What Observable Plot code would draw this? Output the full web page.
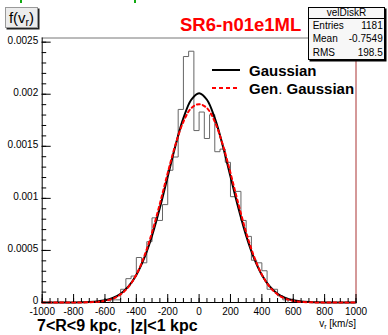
<!DOCTYPE html>
<html><head><meta charset="utf-8">
<script src="https://cdn.jsdelivr.net/npm/d3@7"></script>
<script src="https://cdn.jsdelivr.net/npm/@observablehq/plot@0.6"></script>
<style>
body{margin:0;background:#fff;}
#wrap{position:relative;width:388px;height:335px;overflow:hidden;font-family:"Liberation Sans",Arial,sans-serif;color:#000;}
#wrap svg{display:block;}
.abs{position:absolute;white-space:nowrap;line-height:1;}
sub{font-size:70%;vertical-align:-0.25em;line-height:0;}
</style></head><body><div id="wrap"></div>
<script>
// Histogram (bin lower/upper edges, km/s) and normalised counts
const binEdges = [-566.7,-533.3,-500,-466.7,-433.3,-400,-366.7,-333.3,-300,-266.7,-233.3,-200,-166.7,-133.3,-100,-66.7,-33.3,0,33.3,66.7,100,133.3,166.7,200,233.3,266.7,300,333.3,366.7,400,433.3,466.7,500,533.3,566.7];
const binDensity = [0.0000254,0.0000254,0.000127,0.000229,0.000254,0.000432,0.000381,0.000584,0.000813,0.000788,0.00094,0.00127,0.001397,0.001854,0.002362,0.002413,0.001651,0.001829,0.001575,0.001803,0.001448,0.001473,0.001346,0.001016,0.001067,0.000788,0.000635,0.000406,0.000381,0.000305,0.000127,0.000127,0.0000635,0.0000254];
// Fitted curves sampled along v_r
const curveX = [-1000,-950,-900,-850,-800,-750,-700,-650,-600,-550,-500,-450,-400,-350,-300,-250,-200,-150,-100,-50,0,50,100,150,200,250,300,350,400,450,500,550,600,650,700,750,800,850,900,950,1000];
const gaussY = [0,0,0,0.0000002,0.0000006,0.0000016,0.000004,0.0000094,0.0000209,0.0000433,0.0000843,0.000154,0.000264,0.000425,0.000641,0.000909,0.00121,0.001511,0.00177,0.001947,0.00201,0.001947,0.00177,0.001511,0.00121,0.000909,0.000641,0.000425,0.000264,0.000154,0.0000843,0.0000433,0.0000209,0.0000094,0.000004,0.0000016,0.0000006,0.0000002,0,0,0];
const genGaussY = [0,0,0,0,0.0000002,0.0000008,0.0000023,0.0000063,0.0000159,0.0000367,0.0000776,0.00015,0.000268,0.000442,0.000673,0.000949,0.001244,0.001519,0.001736,0.001867,0.001905,0.001867,0.001736,0.001519,0.001244,0.000949,0.000673,0.000442,0.000268,0.00015,0.0000776,0.0000367,0.0000159,0.0000063,0.0000023,0.0000008,0.0000002,0,0,0,0];
// Axes
const xTicks = [-1000,-800,-600,-400,-200,0,200,400,600,800,1000];
const yTicks = [0,0.0005,0.001,0.0015,0.002,0.0025];
const xMinor = d3.range(-1000, 1001, 50);
const yMinor = d3.range(0, 26).map(i => i / 10000);
const xDomain = [-1000, 1000];
const yDomain = [0, 0.00254];
const statRows = [["Entries","1181"],["Mean","-0.7549"],["RMS","198.5"]];

const histPts = [{x: binEdges[0], y: 0}];
binDensity.forEach((v, i) => histPts.push({x: binEdges[i], y: v}));
histPts.push({x: binEdges[binEdges.length - 1], y: 0});
const gaussPts = curveX.map((x, i) => ({x, y: gaussY[i]}));
const genPts = curveX.map((x, i) => ({x, y: genGaussY[i]}));

const chart = Plot.plot({
  width: 388, height: 335,
  marginLeft: 41.7, marginRight: 32.5, marginTop: 37.5, marginBottom: 33,
  x: {domain: xDomain},
  y: {domain: yDomain},
  style: {fontFamily: "'Liberation Sans', Arial, sans-serif", fontSize: "10px", color: "#000", background: "transparent", overflow: "visible"},
  marks: [
    Plot.ruleY([yDomain[1]], {stroke: "#777", strokeWidth: 1}),
    Plot.ruleX([xDomain[1]], {stroke: "#a33", strokeWidth: 1}),
    Plot.ruleY([0], {stroke: "#000", strokeWidth: 1}),
    Plot.ruleX([xDomain[0]], {stroke: "#000", strokeWidth: 1}),
    Plot.line(histPts, {x: "x", y: "y", curve: "step-after", stroke: "#666", strokeWidth: 1}),
    Plot.line(gaussPts, {x: "x", y: "y", curve: "catmull-rom", stroke: "#000", strokeWidth: 2}),
    Plot.line(genPts, {x: "x", y: "y", curve: "catmull-rom", stroke: "#ff0000", strokeWidth: 2, strokeDasharray: "3,3"}),
    Plot.axisX(xMinor, {anchor: "bottom", tickSize: -4, fill: "none", label: null}),
    Plot.axisX(xTicks, {anchor: "bottom", tickSize: -8, fill: "none", label: null}),
    Plot.axisX(xTicks, {anchor: "bottom", tickSize: 0, tickPadding: 5, tickFormat: d => String(d), label: null}),
    Plot.axisY(yMinor, {anchor: "left", tickSize: -4.5, fill: "none", label: null}),
    Plot.axisY(yTicks, {anchor: "left", tickSize: -9, fill: "none", label: null}),
    Plot.axisY(yTicks, {anchor: "left", tickSize: 0, tickPadding: 4, dy: -1.5, tickFormat: d => String(d), label: null})
  ]
});
const wrap = document.getElementById("wrap");
wrap.appendChild(chart);

function add(html, css) {
  const d = document.createElement("div");
  d.className = "abs";
  d.innerHTML = html;
  Object.assign(d.style, css);
  wrap.appendChild(d);
  return d;
}
// green marks at top edge
add("", {left: "19.5px", top: "0px", width: "2px", height: "3px", background: "#1a1"});
add("", {left: "134px", top: "0px", width: "2px", height: "3px", background: "#1a1"});
// f(v_r) box
add("f(v<sub>r</sub>)", {left: "5px", top: "7px", width: "31px", height: "19px", background: "#ececec", border: "1px solid #999", boxShadow: "1.5px 1.5px 0 #222", fontSize: "15px", textAlign: "center", lineHeight: "19px"});
// title
add("SR6-n01e1ML", {left: "180px", top: "16.3px", fontSize: "18.5px", fontWeight: "bold", color: "#ff0000"});
// stat box
const sb = add("", {left: "308px", top: "7px", width: "75px", height: "51px", background: "#f7f7f7", border: "1px solid #000", boxShadow: "1.5px 1.5px 0 #000"});
add("velDiskR", {left: "308px", width: "77px", top: "7.8px", fontSize: "10px", textAlign: "center"});
add("", {left: "308px", top: "18.3px", width: "77px", height: "1px", background: "#000"});
statRows.forEach((r, i) => {
  const top = (21.1 + i * 13.35) + "px";
  add(r[0], {left: "312.7px", top, fontSize: "10px"});
  add(r[1], {right: "5.3px", top, fontSize: "10px", textAlign: "right"});
});
// legend
const leg = add('<svg width="30" height="24"><line x1="1" x2="29" y1="2" y2="2" stroke="#000" stroke-width="2"/><line x1="1" x2="29" y1="20" y2="20" stroke="#f00" stroke-width="2" stroke-dasharray="4,3"/></svg>', {left: "211px", top: "68px"});
add("Gaussian", {left: "249px", top: "62.7px", fontSize: "15px", fontWeight: "bold"});
add("Gen<span style='font-weight:normal'>.</span> Gaussian", {left: "249px", top: "80.7px", fontSize: "15px", fontWeight: "bold"});
// axis title
add("v<sub>r</sub> [km/s]", {right: "32px", top: "319px", fontSize: "10px"});
// selection text
add("7&lt;R&lt;9 kpc<span style='font-weight:normal'>,</span> &nbsp;|z|&lt;1 kpc", {left: "37px", top: "317.5px", fontSize: "16px", fontWeight: "bold"});
</script></body></html>
